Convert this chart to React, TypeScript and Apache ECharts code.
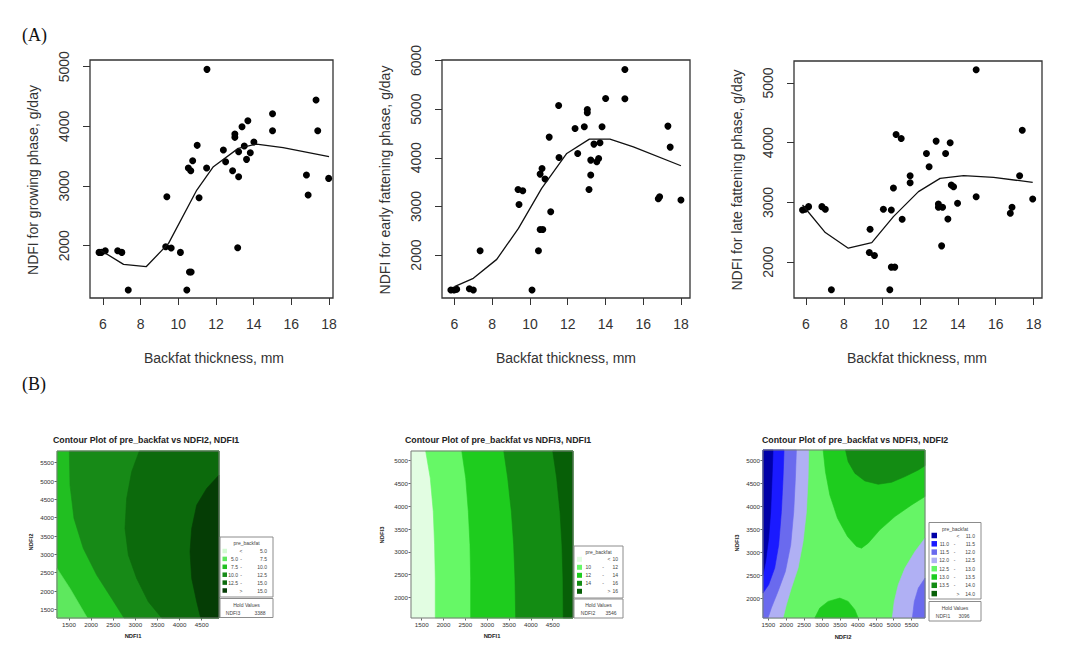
import { useEffect, useRef } from "react";
import * as echarts from "echarts";

const FONT = "'Liberation Sans', Arial, Helvetica, sans-serif";

// ---------- (A) scatter panels: [backfat mm, NDFI g/day] ----------
const growingPoints = [
  [5.79, 1888], [5.91, 1888], [6.12, 1916], [6.78, 1916], [7.0, 1888], [7.34, 1257],
  [9.39, 2821], [9.33, 1983], [9.62, 1961], [10.11, 1888], [10.45, 1257], [10.53, 3302],
  [10.66, 3257], [10.59, 1559], [10.68, 1559], [10.76, 3425], [11.0, 3682], [11.1, 2804],
  [11.5, 3302], [11.52, 4955], [12.39, 3603], [12.51, 3408], [12.88, 3257], [13.0, 3872],
  [13.0, 3816], [13.15, 1966], [13.2, 3575], [13.2, 3156], [13.38, 3994], [13.5, 3670],
  [13.62, 3447], [13.69, 4095], [13.82, 3559], [14.01, 3737], [15.0, 4212], [15.0, 3927],
  [16.8, 3184], [16.89, 2849], [17.31, 4441], [17.4, 3927], [17.98, 3128],
];
const earlyPoints = [
  [5.81, 1281], [5.98, 1281], [6.12, 1295], [6.79, 1308], [7.0, 1281], [7.36, 2089],
  [9.37, 3349], [9.62, 3322], [9.42, 3041], [10.11, 1281], [10.45, 2089], [10.54, 2527],
  [10.68, 2527], [10.54, 3664], [10.64, 3781], [10.8, 3562], [11.02, 4425], [11.1, 2890],
  [11.52, 5075], [11.54, 4007], [12.39, 4603], [12.53, 4089], [12.88, 4637], [13.04, 4993],
  [13.04, 4925], [13.13, 3349], [13.22, 3952], [13.22, 3644], [13.39, 4281], [13.54, 3918],
  [13.64, 3986], [13.71, 4308], [13.82, 4637], [14.01, 5219], [15.03, 5815], [15.03, 5212],
  [16.8, 3158], [16.87, 3199], [17.31, 4651], [17.43, 4219], [18.0, 3130],
];
const latePoints = [
  [5.82, 2874], [5.96, 2885], [6.14, 2929], [6.84, 2929], [7.02, 2885], [7.34, 1538],
  [9.38, 2551], [9.34, 2161], [9.61, 2111], [10.08, 2885], [10.42, 1538], [10.5, 2874],
  [10.5, 1917], [10.68, 1917], [10.61, 3241], [10.75, 4137], [11.02, 4070], [11.07, 2718],
  [11.49, 3447], [11.49, 3330], [12.35, 3820], [12.49, 3597], [12.86, 4026], [12.98, 2974],
  [12.98, 2918], [13.15, 2273], [13.2, 2918], [13.36, 3820], [13.48, 2723], [13.6, 3998],
  [13.66, 3291], [13.78, 3263], [13.99, 2985], [14.97, 5222], [14.97, 3096], [16.77, 2818],
  [16.86, 2918], [17.26, 3447], [17.4, 4209], [17.95, 3057],
];
const growingSmooth = [
  [5.86, 1927], [7.09, 1687], [8.29, 1648], [9.48, 2039], [10.98, 2933], [11.86, 3324],
  [13.18, 3631], [14.15, 3704], [15.56, 3642], [18.0, 3492],
];
const earlySmooth = [
  [6.0, 1349], [7.0, 1521], [8.24, 1911], [9.39, 2548], [10.62, 3370], [11.95, 4089],
  [13.15, 4384], [14.24, 4384], [15.48, 4226], [18.0, 3836],
];
const lateSmooth = [
  [5.82, 2957], [7.02, 2495], [8.23, 2234], [9.47, 2328], [10.61, 2762], [11.93, 3180],
  [13.07, 3402], [14.31, 3447], [15.89, 3419], [17.95, 3336],
];
const backfatTicks = [6, 8, 10, 12, 14, 16, 18];
const growingTicks = [2000, 3000, 4000, 5000];
const earlyTicks = [2000, 3000, 4000, 5000, 6000];
const lateTicks = [2000, 3000, 4000, 5000];
const topXRanges = [[5.31, 18.21], [5.34, 18.48], [5.37, 18.44]];
const topYRanges = [[1124, 5112], [1117, 6010], [1400, 5367]];
const topYTitles = [
  "NDFI for growing phase, g/day",
  "NDFI for early fattening phase, g/day",
  "NDFI for late fattening phase, g/day",
];
const topXTitle = "Backfat thickness, mm";

// ---------- (B) contour plots: regions in data units ----------
// Plot 1: pre_backfat vs NDFI2 (y), NDFI1 (x)
const C1X = [1229, 4891];
const C1Y = [1265, 5820];
const c1Regions = [
  [[C1X[0], C1Y[0]], [C1X[1], C1Y[0]], [C1X[1], C1Y[1]], [C1X[0], C1Y[1]]],
  [[C1X[0], 2618], [1523, 2073], [1915, C1Y[0]], [C1X[0], C1Y[0]]],
  [[1508, C1Y[1]], [1523, 4891], [1613, 3982], [1824, 3164], [2126, 2436], [2465, 1800], [2744, C1Y[0]], [C1X[1], C1Y[0]], [C1X[1], C1Y[1]]],
  [[3090, C1Y[1]], [2917, 5255], [2804, 4527], [2766, 3709], [2842, 2982], [3030, 2345], [3294, 1709], [3596, C1Y[0]], [C1X[1], C1Y[0]], [C1X[1], C1Y[1]]],
  [[C1X[1], 5164], [4613, 4800], [4387, 4345], [4274, 3709], [4236, 3073], [4274, 2345], [4387, 1709], [4477, C1Y[0]], [C1X[1], C1Y[0]]],
];
const c1RegionColors = ["#21bf21", "#5ee85e", "#178a17", "#0c6a0c", "#053d05"];
const c1LegendColors = ["#d2fbd2", "#5ee85e", "#21bf21", "#178a17", "#0c6a0c", "#053d05"];
const c1LegendRows = [["", "<", "5.0"], ["5.0", "-", "7.5"], ["7.5", "-", "10.0"], ["10.0", "-", "12.5"], ["12.5", "-", "15.0"], ["", ">", "15.0"]];
const c1XTicks = [1500, 2000, 2500, 3000, 3500, 4000, 4500];
const c1YTicks = [1500, 2000, 2500, 3000, 3500, 4000, 4500, 5000, 5500];
const c1Hold = ["NDFI3", "3388"];

// Plot 2: pre_backfat vs NDFI3 (y), NDFI1 (x)
const C2X = [1255, 4965];
const C2Y = [1547, 5212];
const c2Regions = [
  [[C2X[0], C2Y[0]], [C2X[1], C2Y[0]], [C2X[1], C2Y[1]], [C2X[0], C2Y[1]]],
  [[1591, C2Y[1]], [1697, 4613], [1765, 3883], [1795, 3153], [1811, 2423], [1811, C2Y[0]], [C2X[1], C2Y[0]], [C2X[1], C2Y[1]]],
  [[2417, C2Y[1]], [2508, 4613], [2568, 3883], [2606, 3153], [2621, 2423], [2621, C2Y[0]], [C2X[1], C2Y[0]], [C2X[1], C2Y[1]]],
  [[3379, C2Y[1]], [3470, 4613], [3553, 3883], [3606, 3153], [3636, 2423], [3652, C2Y[0]], [C2X[1], C2Y[0]], [C2X[1], C2Y[1]]],
  [[4500, C2Y[1]], [4591, 4613], [4667, 3883], [4712, 3153], [4735, 2423], [4742, C2Y[0]], [C2X[1], C2Y[0]], [C2X[1], C2Y[1]]],
];
const c2RegionColors = ["#e2fde2", "#66f866", "#1ecc1e", "#138c13", "#075f07"];
const c2LegendColors = ["#e2fde2", "#66f866", "#1ecc1e", "#138c13", "#075f07"];
const c2LegendRows = [["", "<", "10"], ["10", "-", "12"], ["12", "-", "14"], ["14", "-", "16"], ["", ">", "16"]];
const c2XTicks = [1500, 2000, 2500, 3000, 3500, 4000, 4500];
const c2YTicks = [2000, 2500, 3000, 3500, 4000, 4500, 5000];
const c2Hold = ["NDFI2", "3546"];

// Plot 3: pre_backfat vs NDFI3 (y), NDFI2 (x)
const C3X = [1351, 5873];
const C3Y = [1581, 5232];
const c3Regions = [
  [[C3X[0], C3Y[0]], [C3X[1], C3Y[0]], [C3X[1], C3Y[1]], [C3X[0], C3Y[1]]],
  [[C3X[0], C3Y[1]], [2628, C3Y[1]], [2610, 4618], [2563, 3894], [2470, 3244], [2330, 2665], [2143, 2231], [2003, 1870], [1910, C3Y[0]], [C3X[0], C3Y[0]]],
  [[C3X[0], C3Y[1]], [2283, C3Y[1]], [2255, 4618], [2209, 3894], [2125, 3171], [1976, 2593], [1770, 2159], [1584, 1798], [1491, C3Y[0]], [C3X[0], C3Y[0]]],
  [[C3X[0], C3Y[1]], [1938, C3Y[1]], [1910, 4618], [1864, 3894], [1789, 3171], [1677, 2665], [1509, 2304], [C3X[0], 2123]],
  [[C3X[0], C3Y[1]], [1631, C3Y[1]], [1603, 4618], [1565, 3894], [1509, 3316], [1425, 2810], [C3X[0], 2521]],
  [[C3X[1], 3316], [5594, 3027], [5314, 2665], [5127, 2304], [5015, 1942], [4959, C3Y[0]], [C3X[1], C3Y[0]]],
  [[C3X[1], 2448], [5687, 2231], [5575, 1942], [5519, C3Y[0]], [C3X[1], C3Y[0]]],
  [[3029, C3Y[1]], [3094, 4762], [3216, 4256], [3430, 3750], [3710, 3352], [3962, 3135], [4101, 3099], [4288, 3208], [4614, 3497], [5034, 3786], [5500, 4039], [C3X[1], 4220], [C3X[1], C3Y[1]]],
  [[3654, C3Y[1]], [3728, 4979], [3915, 4726], [4195, 4560], [4568, 4487], [4941, 4531], [5314, 4654], [5687, 4798], [C3X[1], 4892], [C3X[1], C3Y[1]]],
  [[2796, C3Y[0]], [2936, 1798], [3169, 1942], [3495, 2014], [3728, 1942], [3915, 1761], [4008, C3Y[0]]],
];
const c3Palette = ["#0000a8", "#1a1aff", "#6a6aee", "#b0b0f4", "#66f566", "#1ecc1e", "#138c13", "#075f07"];
const c3RegionColors = [c3Palette[4], c3Palette[3], c3Palette[2], c3Palette[1], c3Palette[0], c3Palette[3], c3Palette[2], c3Palette[5], c3Palette[6], c3Palette[5]];
const c3LegendRows = [["", "<", "11.0"], ["11.0", "-", "11.5"], ["11.5", "-", "12.0"], ["12.0", "-", "12.5"], ["12.5", "-", "13.0"], ["13.0", "-", "13.5"], ["13.5", "-", "14.0"], ["", ">", "14.0"]];
const c3XTicks = [1500, 2000, 2500, 3000, 3500, 4000, 4500, 5000, 5500];
const c3YTicks = [2000, 2500, 3000, 3500, 4000, 4500, 5000];
const c3Hold = ["NDFI1", "3096"];

const contourTitles = [
  "Contour Plot of pre_backfat vs NDFI2, NDFI1",
  "Contour Plot of pre_backfat vs NDFI3, NDFI1",
  "Contour Plot of pre_backfat vs NDFI3, NDFI2",
];
const contourXTitles = ["NDFI1", "NDFI1", "NDFI2"];
const contourYTitles = ["NDFI2", "NDFI3", "NDFI3"];

// ---------- layout ----------
const GRIDS = [
  { left: 90, top: 60, width: 243, height: 238 },
  { left: 442, top: 60, width: 248, height: 238 },
  { left: 794, top: 61, width: 248, height: 237 },
  { left: 57, top: 451, width: 162, height: 167 },
  { left: 411, top: 451, width: 162, height: 167 },
  { left: 763, top: 450, width: 162, height: 168 },
];

const plain = (v: number) => String(v);

function buildOption() {
  const xAxes: any[] = [];
  const yAxes: any[] = [];
  const series: any[] = [];
  const graphic: any[] = [];

  const topY = [growingTicks, earlyTicks, lateTicks];
  const topPts = [growingPoints, earlyPoints, latePoints];
  const topLines = [growingSmooth, earlySmooth, lateSmooth];
  const xTitleX = [214, 566, 917];
  const yTitleX = [33, 385, 737];

  for (let i = 0; i < 3; i++) {
    xAxes.push({
      gridIndex: i, type: "value", min: topXRanges[i][0], max: topXRanges[i][1],
      axisLine: { show: false }, splitLine: { show: false },
      axisTick: { show: true, length: 7, lineStyle: { color: "#333", width: 1 }, customValues: backfatTicks },
      axisLabel: { customValues: backfatTicks, formatter: plain, margin: 19, fontSize: 14, color: "#333", fontFamily: FONT },
    });
    yAxes.push({
      gridIndex: i, type: "value", min: topYRanges[i][0], max: topYRanges[i][1],
      axisLine: { show: false }, splitLine: { show: false },
      axisTick: { show: true, length: 7, lineStyle: { color: "#333", width: 1 }, customValues: topY[i] },
      axisLabel: { customValues: topY[i], formatter: plain, rotate: 90, margin: 19, fontSize: 14, color: "#333", fontFamily: FONT },
    });
    series.push({
      type: "scatter", xAxisIndex: i, yAxisIndex: i, data: topPts[i],
      symbol: "circle", symbolSize: 7, itemStyle: { color: "#000", opacity: 1 }, silent: true,
    });
    series.push({
      type: "line", xAxisIndex: i, yAxisIndex: i, data: topLines[i], showSymbol: false,
      lineStyle: { color: "#111", width: 1.3 }, silent: true,
    });
    graphic.push({
      type: "text", x: xTitleX[i], y: 358,
      style: { text: topXTitle, fontSize: 14, fontFamily: FONT, fill: "#333", align: "center", verticalAlign: "middle" },
    });
    graphic.push({
      type: "text", x: yTitleX[i], y: 180, rotation: Math.PI / 2,
      style: { text: topYTitles[i], fontSize: 14, fontFamily: FONT, fill: "#333", align: "center", verticalAlign: "middle" },
    });
  }

  const cX = [C1X, C2X, C3X];
  const cY = [C1Y, C2Y, C3Y];
  const cXT = [c1XTicks, c2XTicks, c3XTicks];
  const cYT = [c1YTicks, c2YTicks, c3YTicks];
  const cRegions = [c1Regions, c2Regions, c3Regions];
  const cColors = [c1RegionColors, c2RegionColors, c3RegionColors];

  for (let k = 0; k < 3; k++) {
    const gi = 3 + k;
    xAxes.push({
      gridIndex: gi, type: "value", min: cX[k][0], max: cX[k][1],
      axisLine: { show: false }, splitLine: { show: false },
      axisTick: { show: true, length: 2.5, lineStyle: { color: "#666" }, customValues: cXT[k] },
      axisLabel: { customValues: cXT[k], formatter: plain, margin: 3, fontSize: 6.2, color: "#333", fontFamily: FONT },
    });
    yAxes.push({
      gridIndex: gi, type: "value", min: cY[k][0], max: cY[k][1],
      axisLine: { show: false }, splitLine: { show: false },
      axisTick: { show: true, length: 2.5, lineStyle: { color: "#666" }, customValues: cYT[k] },
      axisLabel: { customValues: cYT[k], formatter: plain, margin: 3, fontSize: 6.2, color: "#333", fontFamily: FONT },
    });
    const polys = cRegions[k];
    const cols = cColors[k];
    series.push({
      type: "custom", coordinateSystem: "cartesian2d", xAxisIndex: gi, yAxisIndex: gi,
      silent: true,
      data: polys.map((p, idx) => [p[0][0], p[0][1], idx]),
      renderItem: (params: any, api: any) => {
        const poly = polys[params.dataIndex];
        return {
          type: "polygon",
          shape: { points: poly.map((pt) => api.coord(pt)) },
          style: { fill: cols[params.dataIndex], stroke: cols[params.dataIndex], lineWidth: 0.6 },
        };
      },
    });
  }

  // contour overlays: borders, titles, axis titles
  const titleX = [53, 405, 762];
  const xTitlePos = [[133, 636], [492, 636], [843, 637]];
  const yTitlePos = [[31, 542], [382, 535], [737, 543]];
  for (let k = 0; k < 3; k++) {
    const g = GRIDS[3 + k];
    graphic.push({
      type: "rect", z: 50, shape: { x: g.left, y: g.top, width: g.width, height: g.height },
      style: { fill: "none", stroke: "#7a7a7a", lineWidth: 1 },
    });
    graphic.push({
      type: "text", x: titleX[k], y: 440,
      style: { text: contourTitles[k], fontSize: 8.8, fontWeight: "bold", fontFamily: FONT, fill: "#222", align: "left", verticalAlign: "middle" },
    });
    graphic.push({
      type: "text", x: xTitlePos[k][0], y: xTitlePos[k][1],
      style: { text: contourXTitles[k], fontSize: 5.8, fontWeight: "bold", fontFamily: FONT, fill: "#222", align: "center", verticalAlign: "middle" },
    });
    graphic.push({
      type: "text", x: yTitlePos[k][0], y: yTitlePos[k][1], rotation: Math.PI / 2,
      style: { text: contourYTitles[k], fontSize: 5.8, fontWeight: "bold", fontFamily: FONT, fill: "#222", align: "center", verticalAlign: "middle" },
    });
  }

  // legends
  const legends = [
    { L: 220, T: 537, W: 53, H: 60, titleY: 543, y0: 551, step: 7.9, sw: 222.5, swS: 4.5, low: 238, sep: 241, ltgt: 241, high: 267,
      hT: 598.5, hH: 19, l1: 604.5, l2: 612.5, nX: 233, vX: 260, rows: c1LegendRows, colors: c1LegendColors, hold: c1Hold },
    { L: 574, T: 546, W: 49, H: 52, titleY: 551.5, y0: 559.3, step: 8, sw: 577, swS: 5, low: 591, sep: 603, ltgt: 609, high: 618,
      hT: 599, hH: 19, l1: 605, l2: 612.7, nX: 588, vX: 611, rows: c2LegendRows, colors: c2LegendColors, hold: c2Hold },
    { L: 929, T: 522.5, W: 52, H: 76.5, titleY: 528.5, y0: 535.5, step: 8.3, sw: 931.5, swS: 5.5, low: 949, sep: 954.5, ltgt: 958, high: 975,
      hT: 601.5, hH: 19.5, l1: 607.7, l2: 615.5, nX: 943, vX: 964, rows: c3LegendRows, colors: c3Palette, hold: c3Hold },
  ];
  const lt = (text: string, x: number, y: number, align: string) => ({
    type: "text", x, y, z: 60,
    style: { text, fontSize: 5, fontFamily: FONT, fill: "#444", align, verticalAlign: "middle" },
  });
  for (const lg of legends) {
    graphic.push({ type: "rect", z: 55, shape: { x: lg.L, y: lg.T, width: lg.W, height: lg.H }, style: { fill: "#fff", stroke: "#8c8c8c", lineWidth: 1 } });
    graphic.push({ type: "rect", z: 55, shape: { x: lg.L, y: lg.hT, width: lg.W, height: lg.hH }, style: { fill: "#fff", stroke: "#8c8c8c", lineWidth: 1 } });
    graphic.push(lt("pre_backfat", lg.L + lg.W / 2, lg.titleY, "center"));
    lg.rows.forEach((r, i) => {
      const y = lg.y0 + i * lg.step;
      graphic.push({ type: "rect", z: 58, shape: { x: lg.sw, y: y - lg.swS / 2, width: lg.swS, height: lg.swS }, style: { fill: lg.colors[i] } });
      if (r[0]) graphic.push(lt(r[0], lg.low, y, "right"));
      graphic.push(lt(r[1], r[1] === "-" ? lg.sep : lg.ltgt, y, "center"));
      graphic.push(lt(r[2], lg.high, y, "right"));
    });
    graphic.push(lt("Hold Values", lg.L + lg.W / 2, lg.l1, "center"));
    graphic.push(lt(lg.hold[0], lg.nX, lg.l2, "center"));
    graphic.push(lt(lg.hold[1], lg.vX, lg.l2, "center"));
  }

  graphic.push({ type: "text", x: 22, y: 35, style: { text: "(A)", fontSize: 18, fontFamily: "'Liberation Serif', 'DejaVu Serif', serif", fill: "#111", align: "left", verticalAlign: "middle" } });
  graphic.push({ type: "text", x: 22, y: 384, style: { text: "(B)", fontSize: 18, fontFamily: "'Liberation Serif', 'DejaVu Serif', serif", fill: "#111", align: "left", verticalAlign: "middle" } });

  return {
    animation: false,
    backgroundColor: "#ffffff",
    grid: GRIDS.map((g, i) => ({ ...g, containLabel: false, show: i < 3, borderColor: "#333", borderWidth: 1.3, backgroundColor: "transparent" })),
    xAxis: xAxes,
    yAxis: yAxes,
    series,
    graphic,
  };
}

export default function App() {
  const ref = useRef<HTMLDivElement>(null);
  useEffect(() => {
    const chart = echarts.init(ref.current as HTMLDivElement, null, { renderer: "svg" });
    chart.setOption(buildOption() as any);
    return () => chart.dispose();
  }, []);
  return (
    <div
      ref={ref}
      style={{ position: "absolute", left: 0, top: 0, width: 1082, height: 662, background: "#fff" }}
    />
  );
}
